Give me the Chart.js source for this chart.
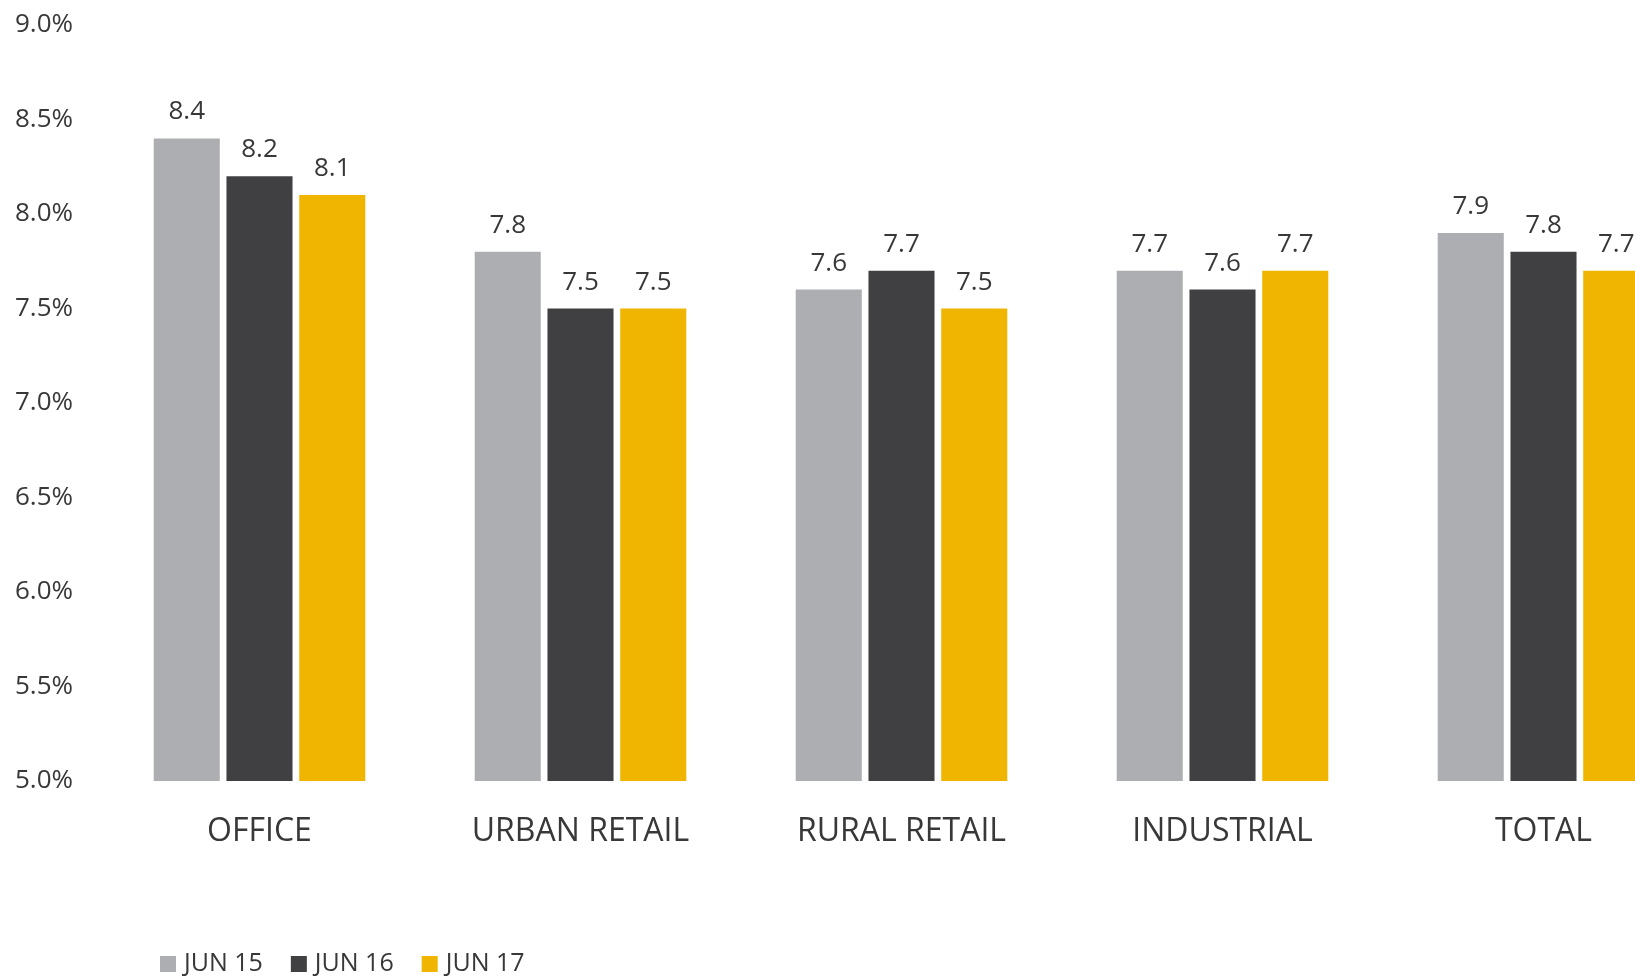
<!DOCTYPE html>
<html>
<head>
<meta charset="utf-8">
<title>Yields by sector</title>
<script src="https://cdn.jsdelivr.net/npm/chart.js@4/dist/chart.umd.min.js"></script>
<style>
  html, body { margin: 0; padding: 0; background: #ffffff; overflow: hidden; }
  #wrap { width: 1710px; height: 976px; }
</style>
</head>
<body>
<div id="wrap"><canvas id="chart" width="1710" height="976"></canvas></div>
<script>
// Sector yields (%) at each June reading
const categories = ['OFFICE', 'URBAN RETAIL', 'RURAL RETAIL', 'INDUSTRIAL', 'TOTAL'];
const seriesNames = ['JUN 15', 'JUN 16', 'JUN 17'];
const jun15 = [8.4, 7.8, 7.6, 7.7, 7.9];
const jun16 = [8.2, 7.5, 7.7, 7.6, 7.8];
const jun17 = [8.1, 7.5, 7.5, 7.7, 7.7];
const yMin = 5.0;
const yMax = 9.0;
const yStep = 0.5;

const colors = ['#ADAEB2', '#404042', '#F0B500'];
const textColor = '#383838';
const fontFamily = '"Open Sans", "Noto Sans", sans-serif';

// Value labels above every bar
const barValueLabels = {
  id: 'barValueLabels',
  afterDatasetsDraw(chart) {
    const ctx = chart.ctx;
    ctx.save();
    ctx.fillStyle = textColor;
    ctx.font = '500 26px ' + fontFamily;
    ctx.textAlign = 'center';
    ctx.textBaseline = 'alphabetic';
    chart.data.datasets.forEach((ds, di) => {
      const meta = chart.getDatasetMeta(di);
      meta.data.forEach((bar, i) => {
        ctx.fillText(ds.data[i].toFixed(1), bar.x, bar.y - 19);
      });
    });
    ctx.restore();
  }
};

// Legend row in the bottom-left corner
const bottomLegend = {
  id: 'bottomLegend',
  afterDraw(chart) {
    const ctx = chart.ctx;
    ctx.save();
    ctx.font = '500 25px ' + fontFamily;
    ctx.textBaseline = 'middle';
    ctx.textAlign = 'left';
    let x = 160;
    const cy = 964;
    chart.data.datasets.forEach((ds) => {
      ctx.fillStyle = ds.backgroundColor;
      ctx.fillRect(x, cy - 8, 16, 16);
      ctx.fillStyle = textColor;
      ctx.fillText(ds.label, x + 24, cy);
      x += 24 + ctx.measureText(ds.label).width + 28;
    });
    ctx.restore();
  }
};

new Chart(document.getElementById('chart'), {
  type: 'bar',
  data: {
    labels: categories,
    datasets: [
      { label: seriesNames[0], data: jun15, backgroundColor: colors[0] },
      { label: seriesNames[1], data: jun16, backgroundColor: colors[1] },
      { label: seriesNames[2], data: jun17, backgroundColor: colors[2] }
    ]
  },
  options: {
    responsive: false,
    animation: false,
    layout: { padding: { left: 15, right: 6, top: 25, bottom: 0 } },
    datasets: {
      bar: { categoryPercentage: 0.68, barPercentage: 0.908 }
    },
    plugins: {
      legend: { display: false },
      tooltip: { enabled: false }
    },
    scales: {
      x: {
        grid: { display: false, drawTicks: false },
        border: { display: false },
        ticks: {
          color: textColor,
          font: { family: fontFamily, size: 32, weight: '500' },
          padding: 32,
          maxRotation: 0,
          autoSkip: false
        },
        afterFit(scale) { scale.height = 195; }
      },
      y: {
        min: yMin,
        max: yMax,
        grid: { display: false, drawTicks: false },
        border: { display: false },
        ticks: {
          stepSize: yStep,
          color: textColor,
          font: { family: fontFamily, size: 26, weight: '500' },
          padding: 0,
          crossAlign: 'far',
          callback: (v) => Number(v).toFixed(1) + '%'
        },
        afterFit(scale) { scale.width = 84; }
      }
    }
  },
  plugins: [barValueLabels, bottomLegend]
});
</script>
</body>
</html>
